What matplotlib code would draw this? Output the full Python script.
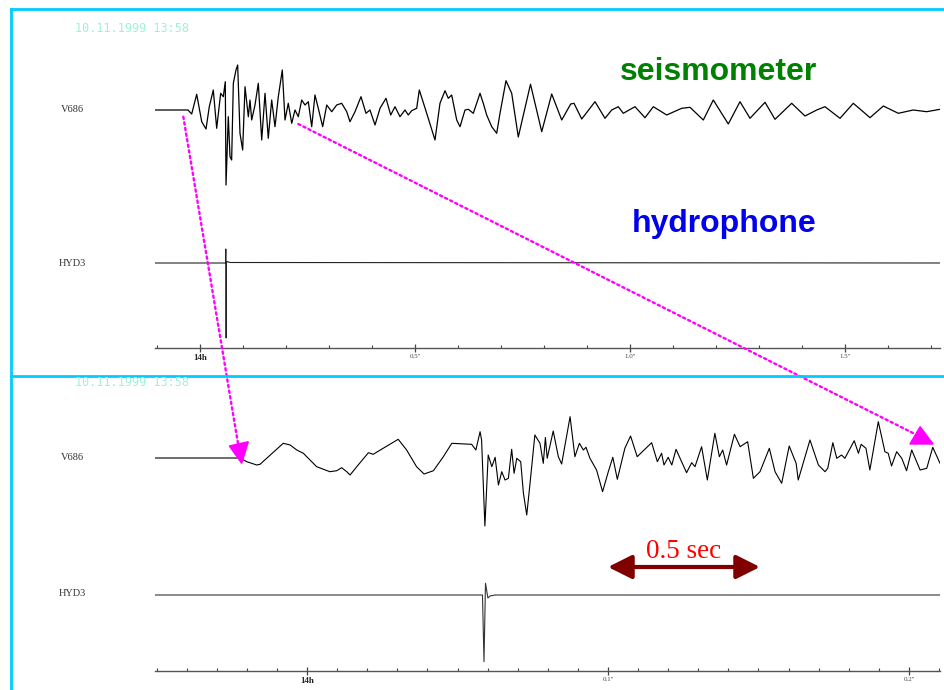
import matplotlib
matplotlib.use('Agg')
import matplotlib.pyplot as plt
from matplotlib.lines import Line2D
from matplotlib.patches import ConnectionPatch, Polygon
from matplotlib.ticker import MultipleLocator

W, H = 945, 690

# upper record: time (ms after 14h) and trace deflection (px, up positive)
seis_top_t = [-104.7, -27.9, -19.3, -7.7, 4.0, 14.0, 21.6, 30.9, 38.8, 48.1,
              54.2, 58.8, 60.5, 65.8, 69.8, 73.6, 77.5, 83.7, 87.6, 93.0,
              99.2, 104.7, 112.4, 116.3, 120.2, 127.9, 135.6, 143.5, 151.2, 158.8,
              166.7, 174.4, 182.1, 191.4, 197.7, 205.3, 213.3, 220.9, 228.6, 236.5,
              244.2, 251.9, 259.8, 267.4, 275.1, 285.3, 294.7, 306.3, 317.9, 329.5,
              341.2, 348.8, 360.5, 374.4, 386.0, 395.3, 407.0, 418.6, 432.6, 443.5,
              453.5, 465.1, 476.7, 484.4, 492.3, 503.9, 510.0, 527.2, 546.5, 558.1,
              569.8, 577.4, 585.3, 597.0, 604.7, 616.3, 624.0, 635.6, 651.2, 658.8,
              666.7, 678.4, 690.0, 697.7, 711.6, 724.9, 740.2, 768.6, 794.7, 817.9,
              841.2, 862.1, 869.8, 887.7, 918.6, 941.9, 957.4, 972.8, 984.4, 1011.6,
              1034.9, 1054.2, 1085.3, 1120.2, 1139.5, 1170.5, 1193.7, 1228.6, 1255.8, 1279.1,
              1314.0, 1337.2, 1376.0, 1407.0, 1434.2, 1453.5, 1488.4, 1519.3, 1546.5, 1558.1,
              1589.1, 1624.0, 1658.8, 1690.0, 1720.9]
seis_top_a = [0, 0, -4, 15.7, -11.7, -19, 3.3, 20, -18.3, 16.7,
              13.3, 28.3, -75, -6.7, -46.7, -50, 26.7, 40, 45, -23.3,
              -40, 23.3, -6.7, 10, -10, 5, 26.7, -30, 16.7, -28.3,
              10, -16.7, 13.3, 40, -10, 6.7, -13.3, 0, -6.7, 10,
              5, 8.3, -16.7, 15, 1.7, -16.7, 5, -1.7, 5, 6.7,
              -1.7, -11.7, -1.7, 13.3, -3.3, 0, -15, 1.7, 11.7, -5,
              3.3, -6.7, 0, -5, -0.7, 1.7, 20, -3.3, -30, 6.7,
              19.3, 11.7, 15, -10, -16.7, 0, 0.7, -3.3, 16.7, 6.7,
              -5, -16.7, -23.3, -3.3, 29.3, 16.7, -27, 25.8, -21.7, 16,
              -10, 6, 6.7, -9, 8.3, -8.3, 0, 3.3, -3.3, 3.3,
              -7.7, 3.3, -5, 1.7, 2.7, -10, 10, -14, 8.3, -8.3,
              7.7, -9.3, 6.7, -6, 0, 3.3, -8.3, 6.7, -3.3, -7.7,
              4, -3.3, 0, -1.7, 0.7]
hyd_top_t = [-104.7, 59.5, 60.0, 60.8, 61.5, 62.5, 70.0, 1720.9]
hyd_top_a = [0, 0, 14, -75, 0, 1.5, 0.5, 0]

# lower record (zoomed time scale)
seis_bot_t = [-50.5, -22.3, -20.0, -16.7, -15.6, -7.9, -5.6, -3.4, -1.2, 3.2,
              7.6, 9.9, 11.5, 13.2, 14.3, 17.0, 20.4, 22.0, 25.3, 30.3,
              33.1, 36.4, 38.9, 42.0, 45.3, 48.1, 52.5, 54.7, 56.1, 57.5,
              58.0, 59.1, 60.2, 61.4, 62.5, 63.6, 64.7, 65.8, 66.9, 68.0,
              68.8, 69.7, 71.0, 71.9, 73.0, 74.1, 75.7, 77.4, 78.5, 79.2,
              79.8, 81.8, 83.5, 84.6, 87.4, 89.0, 90.5, 91.8, 92.7, 94.0,
              96.2, 98.2, 100.1, 101.6, 103.1, 105.6, 107.5, 109.7, 114.5, 116.4,
              117.8, 118.6, 120.0, 121.2, 122.6, 126.1, 127.8, 128.9, 131.1, 133.0,
              135.5, 137.0, 138.1, 139.4, 142.0, 143.9, 146.4, 148.3, 150.5, 153.6,
              155.5, 157.7, 160.2, 162.5, 163.2, 167.1, 169.9, 172.1, 173.0, 174.7,
              176.0, 177.6, 178.7, 181.8, 183.2, 184.1, 185.7, 187.0, 189.8, 192.0,
              193.1, 194.2, 195.9, 197.6, 199.2, 200.9, 203.7, 205.9, 207.9, 210.3]
seis_bot_a = [0, 0, -3.7, -7, -6.3, 14.7, 13, 8, 4.7, -8.7,
              -13.7, -12.7, -9.7, -13.7, -17, -7, 5.3, 3.7, 9.7, 18.7,
              8, -8.7, -16, -12.7, 1.3, 14.7, 14, 13.7, 8, 26.3,
              18, -68, 3, -8.7, 0.7, -27, -13.7, -22, -20.3, 8.7,
              -15.3, -0.3, -3.7, -35.3, -57, -25.3, 23, 14.7, -5.3, 20.5,
              -0.3, 27, 1.3, -6, 41.3, 1.3, 14.7, 8, 10.7, -0.3,
              -12, -33.7, -13.7, 0.7, -21.3, 9.7, 22, 1.3, 15.3, -3.7,
              4.7, -7, 0.7, -7, 8.7, -14.7, -4.7, -8.7, 11.3, -22,
              24.7, 1.3, 8, -7, 23.7, 11.3, 16.3, -20.3, -13.7, 9.7,
              -13.7, -25.3, 12, -5.3, -22, 18, -7, -13.7, -10.3, 15.3,
              -0.3, 3, -0.3, 17.3, 4.7, 13.7, 9.7, -12, 36.3, 6.3,
              4.7, -8, 6.3, -0.3, -12.7, 8, -12, -10.3, 10.7, -5.3]
hyd_bot_t = [-50.5, 58.3, 58.8, 59.3, 60.1, 60.8, 62.5, 210.3]
hyd_bot_a = [0, 0, -66.7, 11.7, -3, -1, 0, 0]

top_ticks = [0, 500, 1000, 1500]
top_labels = ['14h', "0.5''", "1.0''", "1.5''"]
bot_ticks = [0, 100, 200]
bot_labels = ['14h', "0.1''", "0.2''"]

stamp = '10.11.1999 13:58'
bar_span = [100, 150.5]   # ms, the "0.5 sec" scale bar


def fx(x):
    return x / W


def fy(y):
    return 1 - y / H


fig = plt.figure(figsize=(W / 100, H / 100), dpi=100)

ax1 = fig.add_axes([fx(155), fy(348), 785 / W, 308 / H])
ax2 = fig.add_axes([fx(155), fy(671), 785 / W, 281 / H])

trace = dict(solid_joinstyle='round', solid_capstyle='round')
ax1.plot(seis_top_t, [a + 238 for a in seis_top_a], color='black', lw=0.9, **trace)
ax1.plot(hyd_top_t, [a + 85 for a in hyd_top_a], color='#222222', lw=0.8)
ax1.set_xlim(-104.65, 1720.93)
ax1.set_ylim(0, 308)

ax2.plot(seis_bot_t, [a + 213 for a in seis_bot_a], color='black', lw=0.8, **trace)
ax2.plot(hyd_bot_t, [a + 76 for a in hyd_bot_a], color='#333333', lw=0.8)
ax2.set_xlim(-50.5, 210.3)
ax2.set_ylim(0, 281)

for ax, ticks, labels, minor in ((ax1, top_ticks, top_labels, 100),
                                 (ax2, bot_ticks, bot_labels, 10)):
    for s in ('top', 'right', 'left'):
        ax.spines[s].set_visible(False)
    ax.spines['bottom'].set_color('#555555')
    ax.spines['bottom'].set_linewidth(1.0)
    ax.set_yticks([])
    ax.set_xticks(ticks, labels)
    ax.xaxis.set_minor_locator(MultipleLocator(minor))
    ax.tick_params(which='major', direction='inout', length=6, width=0.9,
                   color='#444444', labelsize=5, labelcolor='#444444', pad=1.5)
    ax.tick_params(which='minor', direction='in', length=2, width=0.8,
                   color='#444444')
    for lab in ax.get_xticklabels():
        lab.set_family('Liberation Serif')
    first = ax.get_xticklabels()[0]
    first.set_fontweight('bold')
    first.set_fontsize(6.5)
    first.set_color('#222222')
    ax.patch.set_alpha(0)

# cyan frame
cyan = '#00ccff'
fig.add_artist(Line2D([fx(11), 1], [fy(9), fy(9)], color=cyan, lw=2))
fig.add_artist(Line2D([fx(11), fx(11)], [fy(9), 0], color=cyan, lw=2))
fig.add_artist(Line2D([fx(11), 1], [fy(376), fy(376)], color=cyan, lw=2))

# channel names and time stamps
for y, name in ((110, 'V686'), (263, 'HYD3'), (458, 'V686'), (593, 'HYD3')):
    fig.text(fx(72), fy(y), name, ha='center', va='center', fontsize=7.5,
             color='#333333', family='Liberation Serif')
for y in (28, 383):
    fig.text(fx(132), fy(y), stamp, ha='center', va='center', fontsize=8.5,
             color='#9cf2d8', family='DejaVu Sans Mono')

fig.text(fx(817), fy(72), 'seismometer', ha='right', va='center', fontsize=23,
         fontweight='bold', color='#008000', family='Liberation Sans')
fig.text(fx(817), fy(224), 'hydrophone', ha='right', va='center', fontsize=23,
         fontweight='bold', color='#0000ee', family='Liberation Sans')

# magenta zoom arrows
for start, end in (((-38.8, 231.3), (-22.9, 227)), ((228.6, 224), (201.3, 238))):
    con = ConnectionPatch(xyA=start, coordsA='data', axesA=ax1,
                          xyB=end, coordsB='data', axesB=ax2,
                          color='#ff00ff', lw=1.7, linestyle=(0, (1, 1.4)))
    fig.add_artist(con)
ax2.add_patch(Polygon([(-25.8, 225), (-19.5, 229.3), (-21.7, 207.7)],
                      closed=True, color='#ff00ff', clip_on=False, zorder=5))
ax2.add_patch(Polygon([(200.3, 227), (208.0, 227), (203.7, 244.3)],
                      closed=True, color='#ff00ff', clip_on=False, zorder=5))

# scale bar
ax2.annotate('', xy=(bar_span[0], 104), xytext=(bar_span[1], 104),
             arrowprops=dict(arrowstyle='<|-|>,head_length=0.72,head_width=0.36',
                             color='#800000', lw=3, mutation_scale=20,
                             shrinkA=0, shrinkB=0))
ax2.text(sum(bar_span) / 2, 119, '0.5 sec', ha='center', va='center',
         fontsize=19.5, color='#ff0000', family='Liberation Serif')

fig.savefig('out.png', dpi=100)
